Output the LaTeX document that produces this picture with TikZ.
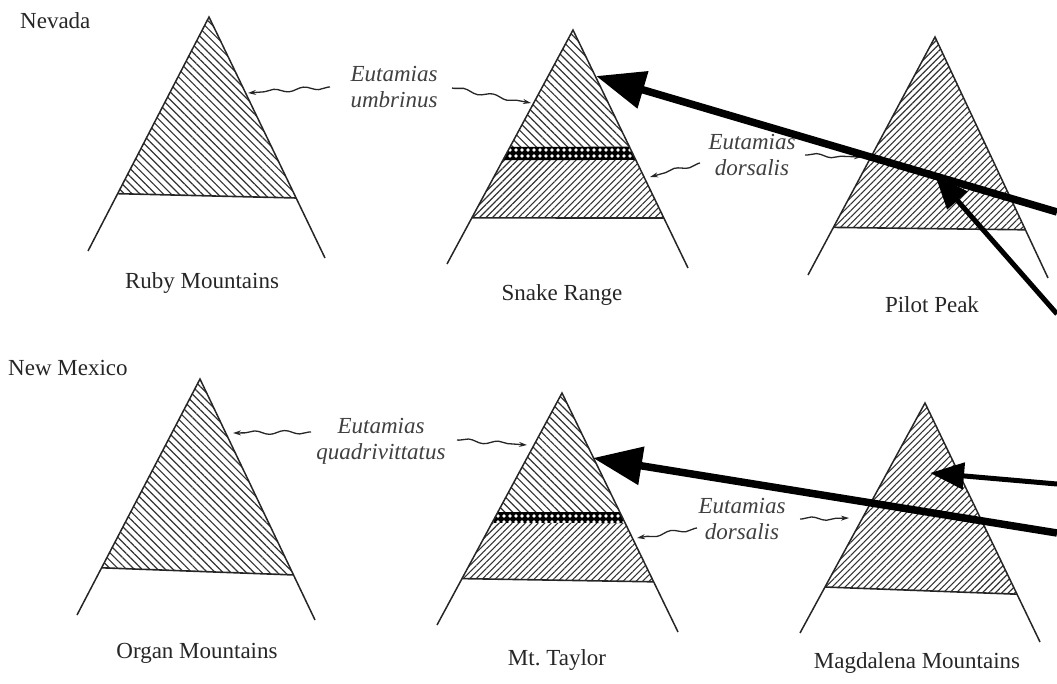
\documentclass[tikz,border=0pt]{standalone}
\usepackage{fontspec}
\setmainfont{Liberation Serif}
\usetikzlibrary{calc,patterns.meta,arrows.meta,decorations.pathmorphing}
\begin{document}
\begin{tikzpicture}[x=1pt,y=-1pt,
  mside/.style={line width=1.5pt, black!85},
  mbase/.style={line width=1.6pt, black!85},
  hatchNW/.style={pattern={Lines[angle=-45,distance=5.5pt,line width=1.2pt]}, pattern color=black!80},
  hatchNE/.style={pattern={Lines[angle=45,distance=4.6pt,line width=1.1pt]}, pattern color=black!80},
  mband/.style={fill=black},
  banddots/.style={pattern={Dots[distance=6pt,radius=1.8pt]}, pattern color=white},
  mtname/.style={font=\fontsize{23}{26}\selectfont, text=black!85, inner sep=0pt},
  species/.style={font=\fontsize{23}{26}\selectfont\itshape, text=black!75, inner sep=0pt, align=center},
  wavy/.style={decorate, decoration={snake, amplitude=1.8pt, segment length=30pt, pre length=2pt, post length=7pt}, line width=1.3pt, black!85, -{Stealth[length=8pt,width=5pt]}},
  bigarrow/.style={line width=7.5pt, -{Triangle[length=49pt,width=37pt]}},
  midarrow/.style={line width=5pt, -{Triangle[length=34pt,width=26pt]}}
]
\useasboundingbox (0,0) rectangle (1057,684);

% ---------- Ruby Mountains ----------
\coordinate (rA) at (209,17); \coordinate (rL) at (88,251); \coordinate (rR) at (325,258);
\path[hatchNW] (rA) -- ($(rA)!0.755!(rL)$) -- ($(rA)!0.751!(rR)$) -- cycle;
\draw[mbase] ($(rA)!0.755!(rL)$) -- ($(rA)!0.751!(rR)$);
\draw[mside] (rL) -- (rA) -- (rR);

% ---------- Snake Range ----------
\coordinate (sA) at (573,30); \coordinate (sL) at (447,264); \coordinate (sR) at (688,268);
\path[hatchNW] (sA) -- ($(sA)!0.50!(sL)$) -- ($(sA)!0.49!(sR)$) -- cycle;
\fill[mband] ($(sA)!0.50!(sL)$) -- ($(sA)!0.49!(sR)$) -- ($(sA)!0.546!(sR)$) -- ($(sA)!0.556!(sL)$) -- cycle;
\path[banddots] ($(sA)!0.50!(sL)$) -- ($(sA)!0.49!(sR)$) -- ($(sA)!0.546!(sR)$) -- ($(sA)!0.556!(sL)$) -- cycle;
\path[hatchNE] ($(sA)!0.556!(sL)$) -- ($(sA)!0.546!(sR)$) -- ($(sA)!0.79!(sR)$) -- ($(sA)!0.803!(sL)$) -- cycle;
\draw[mbase] ($(sA)!0.803!(sL)$) -- ($(sA)!0.79!(sR)$);
\draw[mside] (sL) -- (sA) -- (sR);

% ---------- Pilot Peak ----------
\coordinate (pA) at (935,37); \coordinate (pL) at (808,275); \coordinate (pR) at (1048,278);
\path[hatchNE] (pA) -- ($(pA)!0.80!(pL)$) -- ($(pA)!0.80!(pR)$) -- cycle;
\draw[mbase] ($(pA)!0.80!(pL)$) -- ($(pA)!0.80!(pR)$);
\draw[mside] (pL) -- (pA) -- (pR);

% ---------- Organ Mountains ----------
\coordinate (oA) at (200,379); \coordinate (oL) at (77,615); \coordinate (oR) at (315,620);
\path[hatchNW] (oA) -- ($(oA)!0.80!(oL)$) -- ($(oA)!0.813!(oR)$) -- cycle;
\draw[mbase] ($(oA)!0.80!(oL)$) -- ($(oA)!0.813!(oR)$);
\draw[mside] (oL) -- (oA) -- (oR);

% ---------- Mt. Taylor ----------
\coordinate (tA) at (562,393); \coordinate (tL) at (437,625); \coordinate (tR) at (678,632);
\path[hatchNW] (tA) -- ($(tA)!0.513!(tL)$) -- ($(tA)!0.498!(tR)$) -- cycle;
\fill[mband] ($(tA)!0.513!(tL)$) -- ($(tA)!0.498!(tR)$) -- ($(tA)!0.544!(tR)$) -- ($(tA)!0.56!(tL)$) -- cycle;
\path[banddots] ($(tA)!0.513!(tL)$) -- ($(tA)!0.498!(tR)$) -- ($(tA)!0.544!(tR)$) -- ($(tA)!0.56!(tL)$) -- cycle;
\path[hatchNE] ($(tA)!0.56!(tL)$) -- ($(tA)!0.544!(tR)$) -- ($(tA)!0.79!(tR)$) -- ($(tA)!0.80!(tL)$) -- cycle;
\draw[mbase] ($(tA)!0.80!(tL)$) -- ($(tA)!0.79!(tR)$);
\draw[mside] (tL) -- (tA) -- (tR);

% ---------- Magdalena Mountains ----------
\coordinate (mA) at (925,403); \coordinate (mL) at (800,633); \coordinate (mR) at (1040,642);
\path[hatchNE] (mA) -- ($(mA)!0.80!(mL)$) -- ($(mA)!0.80!(mR)$) -- cycle;
\draw[mbase] ($(mA)!0.80!(mL)$) -- ($(mA)!0.80!(mR)$);
\draw[mside] (mL) -- (mA) -- (mR);

% ---------- text ----------
\node[mtname, anchor=west] (nev) at (20,21) {Nevada};
\node[mtname, anchor=west] (nm) at (8,368) {New Mexico};
\node[mtname] (ruby) at (202,283) {Ruby Mountains};
\node[mtname] (snake) at (562,295) {Snake Range};
\node[mtname] (pilot) at (932,305) {Pilot Peak};
\node[mtname] (organ) at (197,653) {Organ Mountains};
\node[mtname] (taylor) at (557,660) {Mt.\ Taylor};
\node[mtname] (magd) at (917,663) {Magdalena Mountains};

\node[species] (umb) at (394,87) {Eutamias\\umbrinus};
\node[species] (dor1) at (752,155) {Eutamias\\dorsalis};
\node[species] (quad) at (381,441) {Eutamias\\quadrivittatus};
\node[species] (dor2) at (742,519) {Eutamias\\dorsalis};

% ---------- wavy pointers ----------
\coordinate (u1s) at (330,87);  \coordinate (u1e) at (248,93);
\coordinate (u2s) at (452,88);  \coordinate (u2e) at (531,103);
\coordinate (d1s) at (700,163); \coordinate (d1e) at (650,177);
\coordinate (d2s) at (805,155); \coordinate (d2e) at (862,157);
\coordinate (q1s) at (311,432); \coordinate (q1e) at (233,433);
\coordinate (q2s) at (457,440); \coordinate (q2e) at (527,445);
\coordinate (e1s) at (697,528); \coordinate (e1e) at (637,538);
\coordinate (e2s) at (800,519); \coordinate (e2e) at (849,518);
\draw[wavy] (u1s) -- (u1e);
\draw[wavy] (u2s) -- (u2e);
\draw[wavy] (d1s) -- (d1e);
\draw[wavy] (d2s) -- (d2e);
\draw[wavy] (q1s) -- (q1e);
\draw[wavy] (q2s) -- (q2e);
\draw[wavy] (e1s) -- (e1e);
\draw[wavy] (e2s) -- (e2e);

% ---------- big arrows ----------
\coordinate (a1s) at (1057,212); \coordinate (a1e) at (596,76);
\coordinate (a2s) at (1057,314); \coordinate (a2e) at (935,175);
\coordinate (a3s) at (1057,533); \coordinate (a3e) at (593,458);
\coordinate (a4s) at (1057,484); \coordinate (a4e) at (930,473);
\draw[bigarrow] (a1s) -- (a1e);
\draw[midarrow] (a2s) -- (a2e);
\draw[bigarrow] (a3s) -- (a3e);
\draw[midarrow] (a4s) -- (a4e);
\end{tikzpicture}
\end{document}
